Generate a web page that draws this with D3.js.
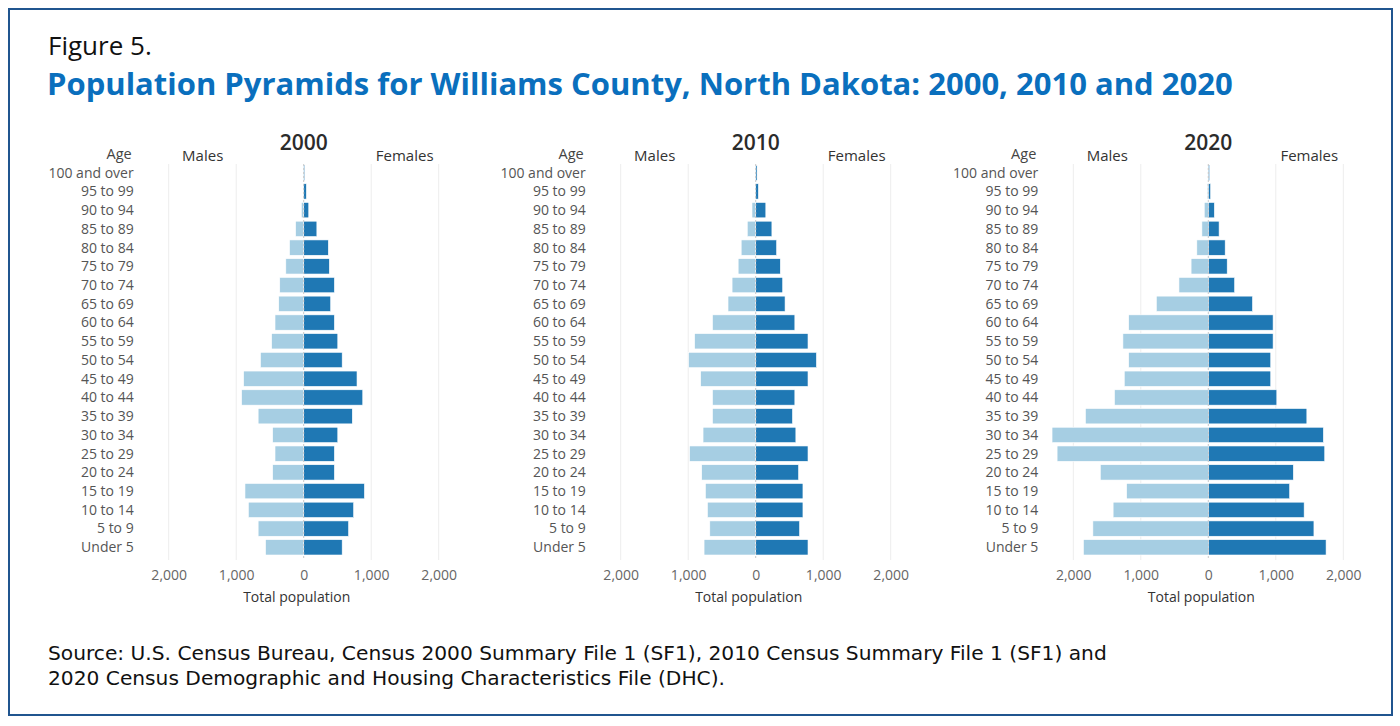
<!DOCTYPE html>
<html>
<head>
<meta charset="utf-8">
<script src="https://cdn.jsdelivr.net/npm/d3@7"></script>
<style>
  body { margin: 0; background: #fff; }
  svg text { font-family: "Open Sans", sans-serif; }
</style>
</head>
<body>
<svg id="chart" width="1400" height="726"></svg>
<script>
// age groups, top of pyramid first
const ageGroups = ['100 and over', '95 to 99', '90 to 94', '85 to 89', '80 to 84', '75 to 79', '70 to 74',
  '65 to 69', '60 to 64', '55 to 59', '50 to 54', '45 to 49', '40 to 44', '35 to 39', '30 to 34',
  '25 to 29', '20 to 24', '15 to 19', '10 to 14', '5 to 9', 'Under 5']

const years = ['2000', '2010', '2020']

const males2000 = [5, 5, 35, 120, 210, 265, 355, 370, 425, 475, 640, 890, 920, 675, 460, 425, 460, 870, 820, 675, 565]
const females2000 = [15, 40, 75, 195, 365, 380, 455, 400, 455, 505, 570, 790, 875, 720, 505, 455, 455, 900, 740, 665, 570]

const males2010 = [3, 10, 55, 125, 215, 260, 350, 410, 640, 905, 995, 815, 640, 640, 780, 980, 800, 745, 715, 680, 765]
const females2010 = [20, 40, 150, 240, 310, 365, 400, 435, 580, 775, 900, 775, 580, 545, 595, 775, 635, 700, 700, 650, 775]

const males2020 = [5, 15, 60, 95, 170, 255, 435, 770, 1180, 1265, 1180, 1245, 1390, 1820, 2315, 2240, 1600, 1210, 1410, 1710, 1850]
const females2020 = [20, 35, 90, 160, 250, 280, 390, 655, 960, 960, 925, 925, 1015, 1460, 1705, 1725, 1260, 1205, 1420, 1565, 1745]

const tickValues = [-2000, -1000, 0, 1000, 2000]

const maleColor = '#a6cee3'
const femaleColor = '#1f78b4'

const panels = [
  { year: years[0], males: males2000, females: females2000, cx: 303.7 },
  { year: years[1], males: males2010, females: females2010, cx: 755.7 },
  { year: years[2], males: males2020, females: females2020, cx: 1208.3 }
]

const svg = d3.select('#chart')

// frame
svg.append('rect')
  .attr('x', 9).attr('y', 9)
  .attr('width', 1383).attr('height', 706)
  .attr('fill', 'none')
  .attr('stroke', '#20558f')
  .attr('stroke-width', 2)

svg.append('text')
  .attr('x', 48).attr('y', 55)
  .attr('font-size', 26)
  .attr('fill', '#111')
  .text('Figure 5.')

svg.append('text')
  .attr('x', 47).attr('y', 95)
  .attr('font-size', 31)
  .attr('font-weight', 700)
  .attr('fill', '#0a6fbd')
  .text('Population Pyramids for Williams County, North Dakota: 2000, 2010 and 2020')

const y = d3.scaleBand()
  .domain(ageGroups)
  .range([165, 555])
  .paddingInner(0.18)

const drawPanel = p => {
  const x = d3.scaleLinear()
    .domain([-2000, 2000])
    .range([p.cx - 135, p.cx + 135])
  const g = svg.append('g')

  // grid
  g.selectAll('.grid')
    .data(tickValues.filter(d => d !== 0))
    .enter()
    .append('line')
    .attr('x1', d => x(d)).attr('x2', d => x(d))
    .attr('y1', 164).attr('y2', 560)
    .attr('stroke', '#ededed')
    .attr('stroke-width', 1)

  const rows = ageGroups.map((age, i) => ({ age, male: p.males[i], female: p.females[i] }))

  g.selectAll('.male')
    .data(rows)
    .enter()
    .append('rect')
    .attr('x', d => x(-d.male))
    .attr('y', d => y(d.age))
    .attr('width', d => x(0) - x(-d.male))
    .attr('height', y.bandwidth())
    .attr('fill', maleColor)
    .attr('stroke', '#fff')
    .attr('stroke-width', 0.6)

  g.selectAll('.female')
    .data(rows)
    .enter()
    .append('rect')
    .attr('x', x(0))
    .attr('y', d => y(d.age))
    .attr('width', d => x(d.female) - x(0))
    .attr('height', y.bandwidth())
    .attr('fill', femaleColor)
    .attr('stroke', '#fff')
    .attr('stroke-width', 0.6)

  // zero line
  g.append('line')
    .attr('x1', x(0)).attr('x2', x(0))
    .attr('y1', 164).attr('y2', 558)
    .attr('stroke', '#c8c8c8')
    .attr('stroke-width', 1)
    .attr('stroke-dasharray', '2,2')

  // x axis
  const axis = g.append('g')
    .attr('transform', 'translate(0,567)')
    .call(d3.axisBottom(x).tickValues(tickValues).tickSize(0).tickFormat(d => d3.format(',')(Math.abs(d))))
  axis.select('.domain').remove()
  axis.selectAll('text')
    .attr('font-family', '"Open Sans", sans-serif')
    .attr('font-size', 14)
    .attr('fill', '#666')

  g.append('text')
    .attr('x', x(0) - 7).attr('y', 602)
    .attr('text-anchor', 'middle')
    .attr('font-size', 14)
    .attr('fill', '#333')
    .text('Total population')

  // age labels
  g.selectAll('.age')
    .data(ageGroups)
    .enter()
    .append('text')
    .attr('x', p.cx - 170)
    .attr('y', d => y(d) + y.bandwidth() / 2)
    .attr('dy', '0.35em')
    .attr('text-anchor', 'end')
    .attr('font-size', 14)
    .attr('fill', '#555')
    .text(d => d)

  g.append('text')
    .attr('x', p.cx - 172).attr('y', 159)
    .attr('text-anchor', 'end')
    .attr('font-size', 14.5)
    .attr('fill', '#444')
    .text('Age')

  g.append('text')
    .attr('x', p.cx - 101).attr('y', 161)
    .attr('text-anchor', 'middle')
    .attr('font-size', 15)
    .attr('fill', '#333')
    .text('Males')

  g.append('text')
    .attr('x', p.cx + 101).attr('y', 161)
    .attr('text-anchor', 'middle')
    .attr('font-size', 15)
    .attr('fill', '#333')
    .text('Females')

  g.append('text')
    .attr('x', p.cx).attr('y', 150)
    .attr('text-anchor', 'middle')
    .attr('font-size', 21)
    .attr('font-weight', 600)
    .attr('fill', '#2b2b2b')
    .text(p.year)
}

panels.forEach(drawPanel)

const sourceLines = [
  'Source: U.S. Census Bureau, Census 2000 Summary File 1 (SF1), 2010 Census Summary File 1 (SF1) and',
  '2020 Census Demographic and Housing Characteristics File (DHC).'
]

svg.selectAll('.source')
  .data(sourceLines)
  .enter()
  .append('text')
  .attr('x', 48)
  .attr('y', (d, i) => 660 + i * 25)
  .style('font-family', '"DejaVu Sans", sans-serif')
  .attr('font-size', 20.2)
  .attr('fill', '#111')
  .text(d => d)
</script>
</body>
</html>
